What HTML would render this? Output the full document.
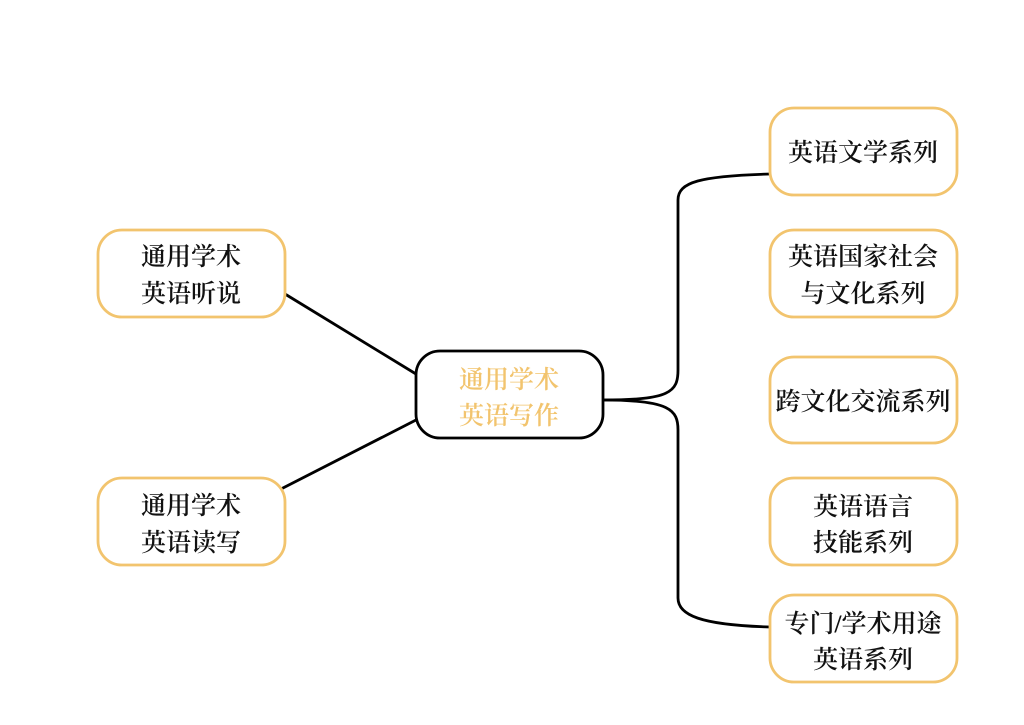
<!DOCTYPE html>
<html><head><meta charset="utf-8"><style>
body{margin:0;background:#fff;width:1024px;height:720px;overflow:hidden}
</style></head><body>
<svg width="1024" height="720" xmlns="http://www.w3.org/2000/svg" font-family="'Liberation Serif','Noto Serif CJK SC',serif" font-size="25" font-weight="600" text-anchor="middle">
<g fill="none" stroke="#000" stroke-width="2.8">
<path d="M603,400 C670,400 678,392 678,370 L678,200 C678,182 700,176 770,174"/>
<path d="M603,400 C670,400 678,410 678,430 L678,598 C678,615 700,625 770,627"/>
<path d="M285,294 L416,374"/>
<path d="M281,489 L416,420"/>
</g>
<g fill="#fff" stroke="#f2c46e" stroke-width="2.8">
<rect x="770" y="108" width="187" height="87" rx="24"/>
<rect x="770" y="230" width="187" height="87" rx="24"/>
<rect x="770" y="357" width="187" height="86" rx="24"/>
<rect x="770" y="478" width="187" height="87" rx="24"/>
<rect x="770" y="595" width="187" height="87" rx="24"/>
<rect x="98" y="230" width="187" height="87" rx="24"/>
<rect x="98" y="478" width="187" height="87" rx="24"/>
</g>
<rect x="416" y="351" width="187" height="87" rx="24" fill="#fff" stroke="#000" stroke-width="2.8"/>
<g fill="#111">
<text x="863" y="161">英语文学系列</text>
<text x="863" y="265">英语国家社会</text>
<text x="863" y="302">与文化系列</text>
<text x="863" y="410">跨文化交流系列</text>
<text x="863" y="515">英语语言</text>
<text x="863" y="551">技能系列</text>
<text x="863" y="632">专门/学术用途</text>
<text x="863" y="668">英语系列</text>
<text x="191" y="265">通用学术</text>
<text x="191" y="302">英语听说</text>
<text x="191" y="514">通用学术</text>
<text x="191" y="551">英语读写</text>
</g>
<g fill="#f2c46e">
<text x="509" y="388">通用学术</text>
<text x="509" y="424">英语写作</text>
</g>
</svg>
</body></html>
